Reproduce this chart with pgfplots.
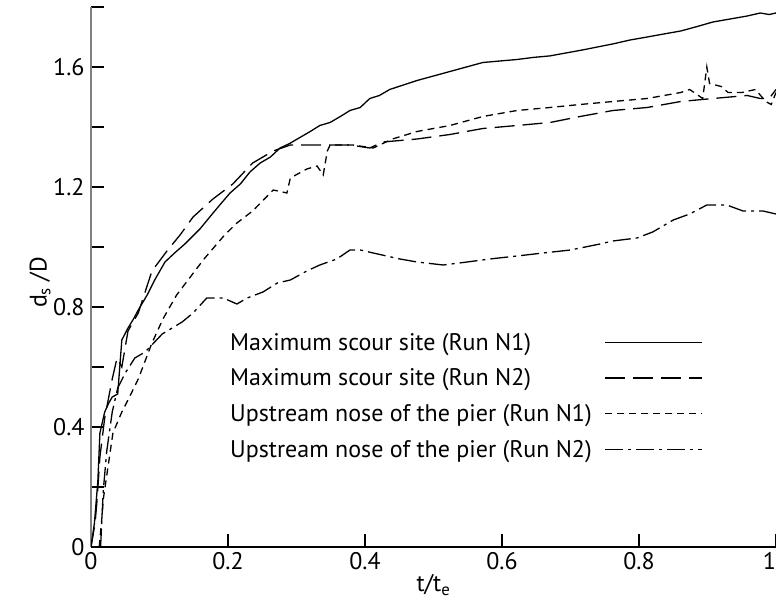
\documentclass[border=0pt]{standalone}
\usepackage{fontspec}
\setmainfont{PT Sans}
\usepackage{pgfplots}
\pgfplotsset{compat=1.18}
\newcommand{\fs}{\fontsize{24}{28}\selectfont}
\begin{document}
\begin{tikzpicture}
\begin{axis}[
  scale only axis,
  width=685pt, height=540pt,
  xmin=0, xmax=1, ymin=0, ymax=1.8,
  axis lines*=left,
  tick align=inside,
  major tick length=13pt,
  every tick/.style={black, line width=1.4pt},
  x axis line style={line width=1.8pt, black},
  y axis line style={line width=2.6pt, gray},
  xtick={0,0.2,0.4,0.6,0.8,1},
  xticklabels={0,0.2,0.4,0.6,0.8,\llap{1}},
  ytick={0,0.2,0.4,0.6,0.8,1.0,1.2,1.4,1.6,1.8},
  yticklabels={0,,0.4,,0.8,,1.2,,1.6,},
  tick label style={font=\fs},
  yticklabel style={xshift=-3pt},
  xticklabel style={yshift=-2pt},
  every axis x label/.style={at={(rel axis cs:0.5,0)}, anchor=north, yshift=-24pt, font=\fs},
  every axis y label/.style={at={([xshift=-51pt]rel axis cs:0,0.49)}, rotate=90, anchor=center, font=\fs},
  xlabel={t/t\textsubscript{e}},
  ylabel={d\textsubscript{s} /D},
  legend plot pos=right,
  legend cell align=left,
  legend image code/.code={\draw[#1] (0pt,0pt) -- (97pt,0pt);},
  legend style={font=\fs, draw=none, fill=none, inner sep=0pt,
    at={(axis cs:0.200,0.72)}, anchor=north west,
    row sep=13pt, column sep=11pt},
  every axis plot/.append style={black, line width=1.3pt},
]
\addplot[solid] coordinates {
(0,0) (0.005,0.08) (0.010,0.22) (0.013,0.38) (0.020,0.45) (0.026,0.48) (0.031,0.50) (0.039,0.51)
(0.042,0.60) (0.045,0.69) (0.054,0.73) (0.062,0.76) (0.069,0.79) (0.082,0.84) (0.093,0.89)
(0.108,0.95) (0.122,0.98) (0.137,1.01) (0.159,1.06) (0.177,1.11) (0.188,1.14) (0.203,1.18)
(0.218,1.21) (0.232,1.25) (0.247,1.28) (0.262,1.30) (0.276,1.33) (0.290,1.345) (0.305,1.365)
(0.320,1.385) (0.334,1.405) (0.349,1.415) (0.364,1.435) (0.378,1.455) (0.393,1.465) (0.407,1.495)
(0.421,1.505) (0.436,1.525) (0.456,1.54) (0.476,1.555) (0.500,1.57) (0.524,1.585) (0.548,1.60)
(0.572,1.615) (0.597,1.62) (0.622,1.625) (0.646,1.632) (0.670,1.637) (0.694,1.647) (0.718,1.657)
(0.740,1.667) (0.762,1.677) (0.787,1.69) (0.812,1.70) (0.836,1.71) (0.861,1.72) (0.885,1.735)
(0.908,1.75) (0.933,1.76) (0.958,1.77) (0.977,1.78) (0.990,1.775) (1.0,1.78)
};
\addlegendentry{Maximum scour site (Run N1)}
\addplot[dash pattern=on 20pt off 8pt] coordinates {
(0,0) (0.006,0.08) (0.009,0.16) (0.013,0.30) (0.020,0.43) (0.031,0.56) (0.038,0.63) (0.045,0.60)
(0.054,0.72) (0.069,0.78) (0.089,0.92) (0.112,0.99) (0.130,1.04) (0.149,1.10) (0.178,1.16)
(0.207,1.21) (0.236,1.28) (0.266,1.32) (0.291,1.34) (0.315,1.34) (0.334,1.34) (0.353,1.34)
(0.378,1.34) (0.407,1.33) (0.426,1.35) (0.476,1.36) (0.524,1.375) (0.572,1.395) (0.622,1.405)
(0.670,1.415) (0.714,1.435) (0.762,1.455) (0.812,1.465) (0.861,1.485) (0.908,1.495) (0.958,1.505)
(0.977,1.495) (0.990,1.495) (1.0,1.525)
};
\addlegendentry{Maximum scour site (Run N2)}
\addplot[dash pattern=on 7pt off 5pt] coordinates {
(0.012,0) (0.016,0.10) (0.018,0.16) (0.025,0.27) (0.032,0.38) (0.045,0.45) (0.054,0.49)
(0.069,0.56) (0.089,0.68) (0.105,0.76) (0.125,0.84) (0.145,0.90) (0.165,0.96) (0.180,1.00)
(0.195,1.04) (0.213,1.08) (0.236,1.12) (0.266,1.19) (0.286,1.18) (0.291,1.23) (0.315,1.26)
(0.330,1.27) (0.339,1.24) (0.345,1.32) (0.349,1.34) (0.382,1.34) (0.412,1.33) (0.440,1.36)
(0.476,1.385) (0.524,1.405) (0.572,1.435) (0.622,1.455) (0.670,1.465) (0.714,1.475) (0.762,1.485)
(0.812,1.495) (0.861,1.515) (0.874,1.525) (0.893,1.495) (0.899,1.60) (0.903,1.545) (0.920,1.535)
(0.930,1.515) (0.950,1.515) (0.970,1.525) (0.985,1.485) (0.993,1.475) (1.0,1.515)
};
\addlegendentry{Upstream nose of the pier (Run N1)}
\addplot[dash pattern=on 18pt off 5pt on 3pt off 5pt] coordinates {
(0.014,0) (0.016,0.10) (0.018,0.19) (0.023,0.32) (0.031,0.45) (0.039,0.53) (0.050,0.58)
(0.064,0.63) (0.079,0.65) (0.104,0.71) (0.133,0.75) (0.149,0.78) (0.169,0.83) (0.193,0.83)
(0.213,0.81) (0.228,0.83) (0.251,0.85) (0.272,0.88) (0.291,0.89) (0.315,0.92) (0.334,0.94)
(0.359,0.96) (0.378,0.99) (0.393,0.99) (0.412,0.98) (0.451,0.96) (0.476,0.95) (0.514,0.94)
(0.549,0.95) (0.582,0.96) (0.622,0.97) (0.660,0.98) (0.700,0.99) (0.743,1.01) (0.762,1.02)
(0.797,1.03) (0.820,1.05) (0.850,1.09) (0.874,1.11) (0.899,1.14) (0.928,1.14) (0.952,1.12)
(0.981,1.12) (1.0,1.11)
};
\addlegendentry{Upstream nose of the pier (Run N2)}
\coordinate (bl) at (rel axis cs:0,0);
\coordinate (tr) at (rel axis cs:1,1);
\end{axis}
\pgfresetboundingbox
\path ([xshift=-91pt,yshift=-58pt]bl) rectangle ([yshift=7pt]tr);
\end{tikzpicture}
\end{document}
